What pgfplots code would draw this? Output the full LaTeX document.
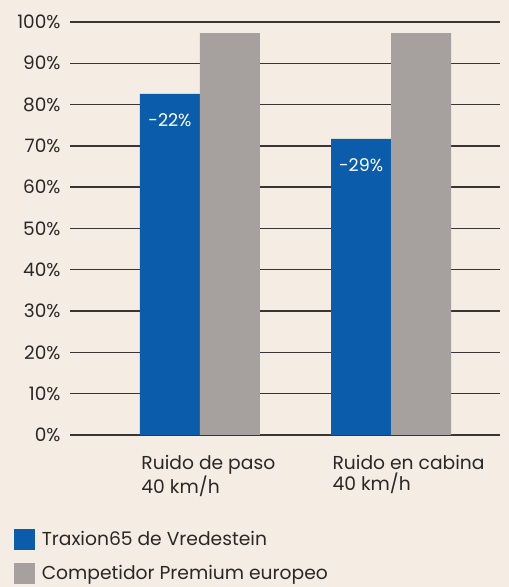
\documentclass[border=0pt]{standalone}
\usepackage{pgfplots}
\pgfplotsset{compat=1.18}
\usepackage{fontspec}
\setmainfont{Poppins}
\definecolor{bg}{HTML}{F5ECE3}
\definecolor{tblue}{HTML}{0B5DAB}
\definecolor{tgray}{HTML}{A6A19E}
\definecolor{txt}{HTML}{2B2727}
\definecolor{gridc}{HTML}{3A3535}
\begin{document}
\begin{tikzpicture}[x=1bp,y=1bp]
\fill[bg] (0,0) rectangle (509,587);
\useasboundingbox (0,0) rectangle (509,587);
\begin{axis}[
  at={(70bp,152bp)}, anchor=south west,
  scale only axis, width=430bp, height=413bp,
  xmin=-0.68, xmax=1.57, ymin=0, ymax=100,
  axis lines=left, axis line style={draw=none},
  major tick length=0pt,
  ymajorgrids, grid style={gridc, line width=1.4bp},
  ytick={0,10,...,100},
  yticklabels={0\%,10\%,20\%,30\%,40\%,50\%,60\%,70\%,80\%,90\%,100\%},
  yticklabel style={font=\fontsize{18.5bp}{20bp}\selectfont, text=txt, xshift=-6bp},
  xtick={0,1},
  xticklabels={{Ruido de paso\\40 km/h},{Ruido en cabina\\40 km/h}},
  xticklabel style={font=\fontsize{18.7bp}{20.5bp}\selectfont, text=txt, align=left, anchor=north west, xshift=-62bp, yshift=-17bp},
  legend style={at={(-0.137,-0.222)}, anchor=north west, draw=none, fill=none,
    font=\fontsize{18.7bp}{20bp}\selectfont, text=txt, row sep=13bp,
    nodes={inner sep=0pt},
    /tikz/every odd column/.style={column sep=6.5bp}},
  legend cell align=left,
  legend image code/.code={\fill[#1] (0bp,-10.5bp) rectangle (21bp,10.5bp);},
]
\addplot[ybar, fill=tblue, draw=none, bar width=0.314, bar shift=-0.157,
  nodes near coords, point meta=explicit symbolic,
  nodes near coords style={text=white, anchor=center, xshift=-30bp, yshift=-26bp, font=\fontsize{17.5bp}{20bp}\selectfont}]
  coordinates {(0,82.6) [-22\%] (1,71.7) [-29\%]};
\addlegendentry{Traxion65 de Vredestein}
\addplot[ybar, fill=tgray, draw=none, bar width=0.314, bar shift=0.157]
  coordinates {(0,97.3) (1,97.3)};
\addlegendentry{Competidor Premium europeo}
\end{axis}
\end{tikzpicture}
\end{document}
